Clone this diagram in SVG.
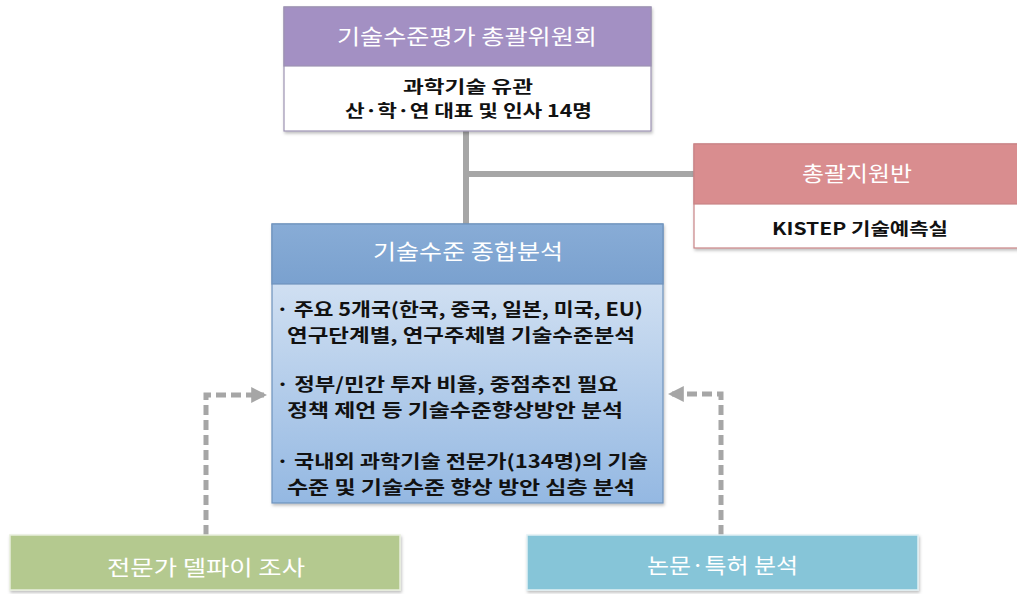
<svg xmlns="http://www.w3.org/2000/svg" width="1017" height="594" viewBox="0 0 1017 594">
<defs>
<linearGradient id="gBody" x1="0" y1="0" x2="0" y2="1">
<stop offset="0" stop-color="#e0eaf6"/>
<stop offset="1" stop-color="#94b8e2"/>
</linearGradient>
<linearGradient id="gHead" x1="0" y1="0" x2="0" y2="1">
<stop offset="0" stop-color="#88acd6"/>
<stop offset="1" stop-color="#7aa1cf"/>
</linearGradient>
<filter id="sh" x="-5%" y="-5%" width="110%" height="115%">
<feDropShadow dx="1" dy="2" stdDeviation="1.5" flood-color="#000" flood-opacity="0.25"/>
</filter>
<marker id="ah" viewBox="0 0 10 10" refX="8" refY="5" markerWidth="3.2" markerHeight="3.2" orient="auto">
<path d="M0,0 L10,5 L0,10 z" fill="#a6a6a6"/>
</marker>
</defs>
<style>
text{font-family:"Malgun Gothic","Noto Sans CJK KR","Noto Sans",sans-serif;}
.hd{fill:#fff;font-size:21px;}
.bd{fill:#111;font-size:17px;font-weight:bold;}
.bl{fill:#111;font-size:18px;font-weight:bold;}
.conn{stroke:#a6a6a6;stroke-width:6;fill:none;}
.dash{stroke:#a6a6a6;stroke-width:5;fill:none;stroke-dasharray:10 5;}
</style>
<g id="connectors">
<line class="conn" x1="466" y1="131" x2="466" y2="225"/>
<line class="conn" x1="466" y1="174" x2="694" y2="174"/>
<path class="dash" d="M206,535 V395 H264" marker-end="url(#ah)"/>
<path class="dash" d="M721,535 V394 H671" marker-end="url(#ah)"/>
</g>
<g id="committee">
<rect x="284" y="7" width="367" height="124" fill="#fff" stroke="#9d93b3" stroke-width="1.2" filter="url(#sh)"/>
<rect x="284" y="7" width="367" height="59" fill="#a390c3" stroke="#9d93b3" stroke-width="1.2"/>
<text class="hd" x="337" y="44" textLength="260" lengthAdjust="spacingAndGlyphs">기술수준평가 총괄위원회</text>
<text class="bd" x="403" y="93" textLength="130" lengthAdjust="spacingAndGlyphs">과학기술 유관</text>
<text class="bd" x="345" y="117" textLength="247" lengthAdjust="spacingAndGlyphs">산·학·연 대표 및 인사 14명</text>
</g>
<g id="support">
<rect x="694" y="144" width="330" height="104" fill="#fff" stroke="#c98486" stroke-width="1.2" filter="url(#sh)"/>
<rect x="694" y="144" width="330" height="60" fill="#d98d8f" stroke="#c98486" stroke-width="1.2"/>
<text class="hd" x="802" y="181" textLength="110" lengthAdjust="spacingAndGlyphs">총괄지원반</text>
<text class="bd" x="772" y="235" textLength="176" lengthAdjust="spacingAndGlyphs">KISTEP 기술예측실</text>
</g>
<g id="analysis">
<rect x="272" y="224" width="391" height="279" fill="url(#gBody)" stroke="#6f93bd" stroke-width="1.2" filter="url(#sh)"/>
<rect x="272" y="224" width="391" height="60" fill="url(#gHead)" stroke="#6f93bd" stroke-width="1.2"/>
<text class="hd" x="373" y="259" textLength="190" lengthAdjust="spacingAndGlyphs">기술수준 종합분석</text>
<text class="bl" x="276" y="316" textLength="367" lengthAdjust="spacingAndGlyphs">· 주요 5개국(한국, 중국, 일본, 미국, EU)</text>
<text class="bl" x="287" y="342" textLength="348" lengthAdjust="spacingAndGlyphs">연구단계별, 연구주체별 기술수준분석</text>
<text class="bl" x="276" y="391" textLength="342" lengthAdjust="spacingAndGlyphs">· 정부/민간 투자 비율, 중점추진 필요</text>
<text class="bl" x="287" y="417" textLength="336" lengthAdjust="spacingAndGlyphs">정책 제언 등 기술수준향상방안 분석</text>
<text class="bl" x="276" y="468" textLength="372" lengthAdjust="spacingAndGlyphs">· 국내외 과학기술 전문가(134명)의 기술</text>
<text class="bl" x="287" y="494" textLength="348" lengthAdjust="spacingAndGlyphs">수준 및 기술수준 향상 방안 심층 분석</text>
</g>
<g id="delphi">
<rect x="10" y="535" width="390" height="55" fill="#b4c98f" stroke="#e8eedd" stroke-width="1.5" filter="url(#sh)"/>
<text class="hd" x="107" y="575" textLength="198" lengthAdjust="spacingAndGlyphs">전문가 델파이 조사</text>
</g>
<g id="paper">
<rect x="527" y="535" width="391" height="55" fill="#86c5d8" stroke="#e1f0f4" stroke-width="1.5" filter="url(#sh)"/>
<text class="hd" x="647" y="573" textLength="151" lengthAdjust="spacingAndGlyphs">논문·특허 분석</text>
</g>
</svg>
